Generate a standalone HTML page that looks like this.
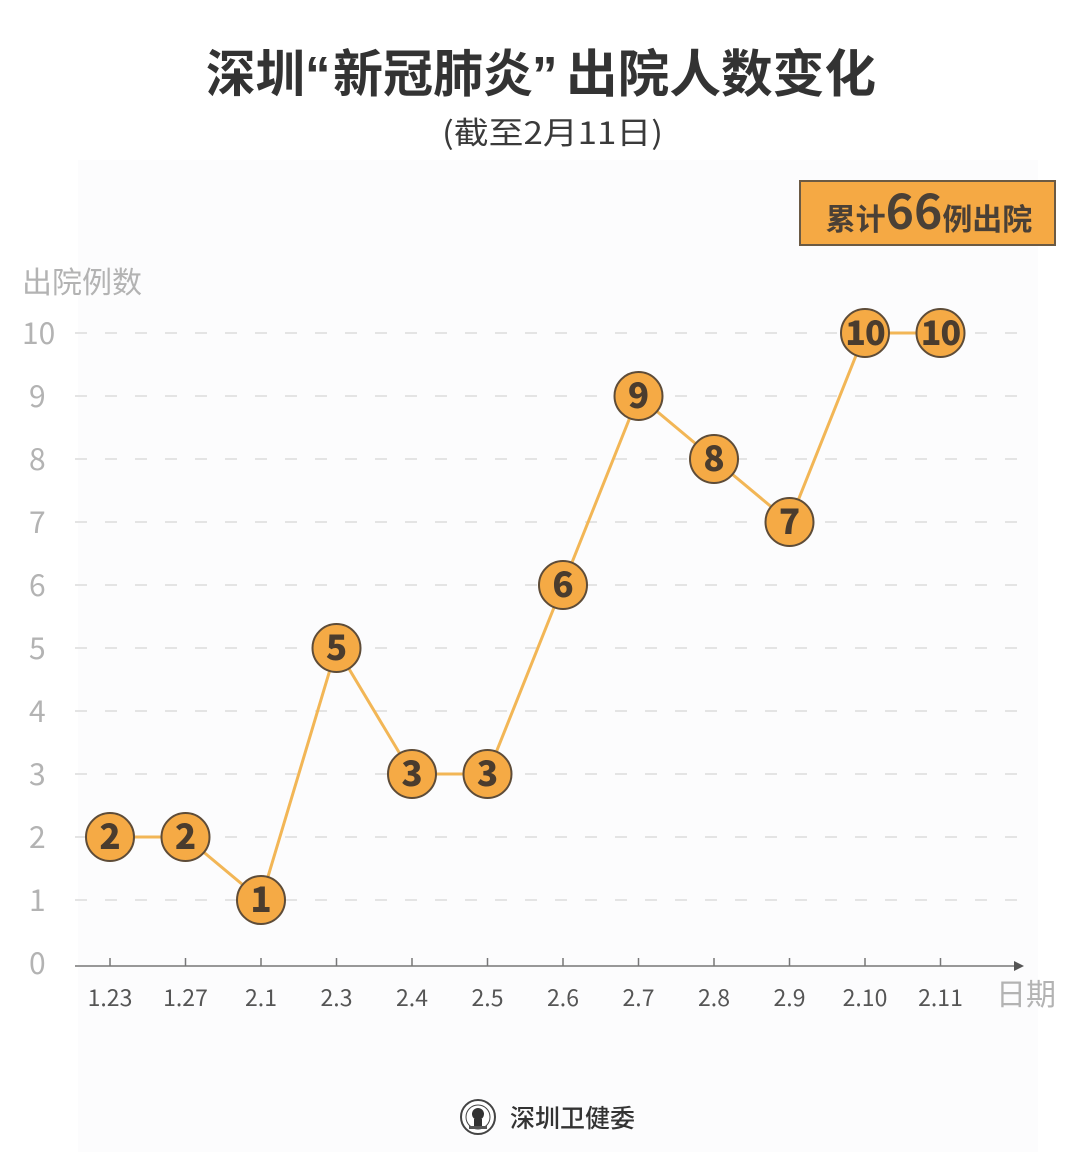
<!DOCTYPE html>
<html><head><meta charset="utf-8">
<style>
html,body{margin:0;padding:0;background:#fff;}
svg{display:block;}
</style></head>
<body>
<svg width="1080" height="1152" viewBox="0 0 1080 1152" xmlns="http://www.w3.org/2000/svg">
<rect width="1080" height="1152" fill="#ffffff"/>
<rect x="78" y="160" width="960" height="992" fill="#fcfcfd"/>
<g font-family="'Noto Sans CJK SC',sans-serif" font-weight="700" font-size="51" fill="#333">
<text x="206" y="92" textLength="99" lengthAdjust="spacingAndGlyphs">深圳</text>
<text x="305" y="92" font-family="'Liberation Sans',sans-serif">“</text>
<text x="333" y="92" textLength="200" lengthAdjust="spacingAndGlyphs">新冠肺炎</text>
<text x="532" y="92" font-family="'Liberation Sans',sans-serif">”</text>
<text x="566" y="92" textLength="310" lengthAdjust="spacingAndGlyphs">出院人数变化</text>
</g>
<text x="442" y="144" textLength="221" lengthAdjust="spacingAndGlyphs" font-family="'Noto Sans CJK SC',sans-serif" font-size="31" fill="#3a3a3a">(截至2月11日)</text>

<rect x="800" y="181" width="255" height="64" fill="#f5a944" stroke="#6b5a44" stroke-width="2"/>
<text x="929" y="230" text-anchor="middle" font-family="'Noto Sans CJK SC',sans-serif" font-weight="700" fill="#4a4036"><tspan font-size="30">累计</tspan><tspan font-size="48" dy="-1">66</tspan><tspan font-size="30" dy="1">例出院</tspan></text>

<text x="22" y="293" font-family="'Noto Sans CJK SC',sans-serif" font-size="30" fill="#b3b3b3">出院例数</text>

<g font-family="'Noto Sans CJK SC',sans-serif" font-size="30" fill="#b3b3b3">
<text x="22" y="344">10</text>
<text x="29" y="407">9</text>
<text x="29" y="470">8</text>
<text x="29" y="533">7</text>
<text x="29" y="596">6</text>
<text x="29" y="659">5</text>
<text x="29" y="722">4</text>
<text x="29" y="785">3</text>
<text x="29" y="848">2</text>
<text x="29" y="911">1</text>
<text x="29" y="974">0</text>
</g>

<g stroke="#dcdcdc" stroke-width="1.5" stroke-dasharray="12 18">
<line x1="75" y1="333" x2="1020" y2="333"/>
<line x1="75" y1="396" x2="1020" y2="396"/>
<line x1="75" y1="459" x2="1020" y2="459"/>
<line x1="75" y1="522" x2="1020" y2="522"/>
<line x1="75" y1="585" x2="1020" y2="585"/>
<line x1="75" y1="648" x2="1020" y2="648"/>
<line x1="75" y1="711" x2="1020" y2="711"/>
<line x1="75" y1="774" x2="1020" y2="774"/>
<line x1="75" y1="837" x2="1020" y2="837"/>
<line x1="75" y1="900" x2="1020" y2="900"/>
</g>

<line x1="75" y1="966" x2="1016" y2="966" stroke="#777" stroke-width="1.5"/>
<polygon points="1014,961 1024,966 1014,971" fill="#555"/>
<g stroke="#777" stroke-width="1.5">
<line x1="110" y1="958" x2="110" y2="966"/>
<line x1="185.5" y1="958" x2="185.5" y2="966"/>
<line x1="261" y1="958" x2="261" y2="966"/>
<line x1="336.5" y1="958" x2="336.5" y2="966"/>
<line x1="412" y1="958" x2="412" y2="966"/>
<line x1="487.5" y1="958" x2="487.5" y2="966"/>
<line x1="563" y1="958" x2="563" y2="966"/>
<line x1="638.5" y1="958" x2="638.5" y2="966"/>
<line x1="714" y1="958" x2="714" y2="966"/>
<line x1="789.5" y1="958" x2="789.5" y2="966"/>
<line x1="865" y1="958" x2="865" y2="966"/>
<line x1="940.5" y1="958" x2="940.5" y2="966"/>
</g>
<g font-family="'Noto Sans CJK SC',sans-serif" font-size="23" fill="#555" text-anchor="middle">
<text x="110" y="1006">1.23</text>
<text x="185.5" y="1006">1.27</text>
<text x="261" y="1006">2.1</text>
<text x="336.5" y="1006">2.3</text>
<text x="412" y="1006">2.4</text>
<text x="487.5" y="1006">2.5</text>
<text x="563" y="1006">2.6</text>
<text x="638.5" y="1006">2.7</text>
<text x="714" y="1006">2.8</text>
<text x="789.5" y="1006">2.9</text>
<text x="865" y="1006">2.10</text>
<text x="940.5" y="1006">2.11</text>
</g>
<text x="996" y="1005" font-family="'Noto Sans CJK SC',sans-serif" font-size="30" fill="#b3b3b3">日期</text>

<polyline points="110,837 185.5,837 261,900 336.5,648 412,774 487.5,774 563,585 638.5,396 714,459 789.5,522 865,333 940.5,333" fill="none" stroke="#f2b656" stroke-width="3"/>

<g fill="#f5aa45" stroke="#5e4c38" stroke-width="2">
<circle cx="110" cy="837" r="24"/>
<circle cx="185.5" cy="837" r="24"/>
<circle cx="261" cy="900" r="24"/>
<circle cx="336.5" cy="648" r="24"/>
<circle cx="412" cy="774" r="24"/>
<circle cx="487.5" cy="774" r="24"/>
<circle cx="563" cy="585" r="24"/>
<circle cx="638.5" cy="396" r="24"/>
<circle cx="714" cy="459" r="24"/>
<circle cx="789.5" cy="522" r="24"/>
<circle cx="865" cy="333" r="24"/>
<circle cx="940.5" cy="333" r="24"/>
</g>
<g font-family="'Noto Sans CJK SC',sans-serif" font-weight="900" font-size="35" fill="#4a3c2e" text-anchor="middle">
<text x="110" y="849">2</text>
<text x="185.5" y="849">2</text>
<text x="261" y="912">1</text>
<text x="336.5" y="660">5</text>
<text x="412" y="786">3</text>
<text x="487.5" y="786">3</text>
<text x="563" y="597">6</text>
<text x="638.5" y="408">9</text>
<text x="714" y="471">8</text>
<text x="789.5" y="534">7</text>
<text x="865" y="345" font-size="34" letter-spacing="-1">10</text>
<text x="940.5" y="345" font-size="34" letter-spacing="-1">10</text>
</g>

<g transform="translate(478,1117)">
<circle r="17" fill="#fff" stroke="#444" stroke-width="2"/>
<circle r="12" fill="none" stroke="#444" stroke-width="1"/>
<circle cx="0" cy="-3" r="6" fill="#333"/>
<rect x="-4" y="2" width="8" height="9" fill="#333"/>
<rect x="-9" y="9" width="18" height="3" fill="#555"/>
</g>
<text x="510" y="1127" font-family="'Noto Sans CJK SC',sans-serif" font-weight="500" font-size="25" fill="#333">深圳卫健委</text>
</svg>
</body></html>
